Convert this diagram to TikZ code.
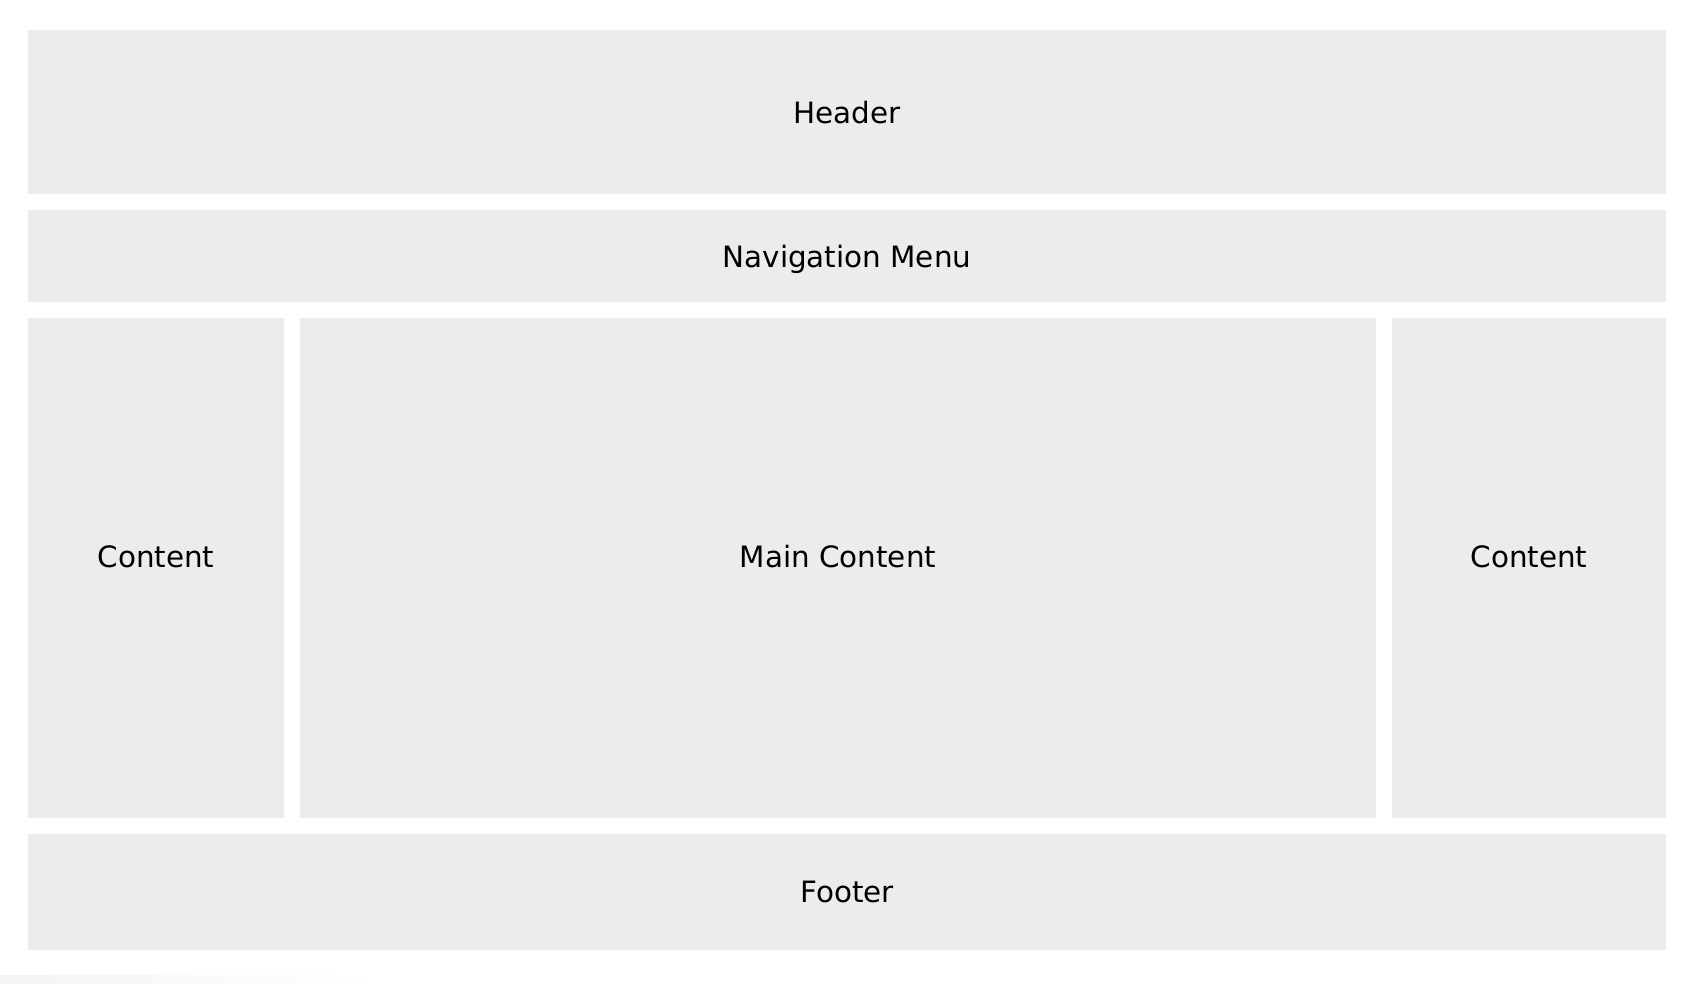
\documentclass[tikz,border=0pt]{standalone}
\usepackage{fontspec}
\setmainfont{DejaVu Sans}
\definecolor{boxgray}{HTML}{ECECEC}
\definecolor{shadowgray}{HTML}{F4F4F4}
\begin{document}
\begin{tikzpicture}[x=1pt,y=-1pt,
  panel/.style={fill=boxgray, draw=none, inner sep=0pt},
  caption/.style={font=\fontsize{29.4}{34}\selectfont, text=black, inner sep=0pt}]
\useasboundingbox[fill=white] (0,0) rectangle (1688,984);
\shade[left color=shadowgray, right color=white] (0,975) rectangle (380,984);
\node[panel, minimum width=1638, minimum height=164,
  label={[caption, yshift=-1pt]center:Header}] (header) at (847,112) {};
\node[panel, minimum width=1638, minimum height=92,
  label={[caption, yshift=-3pt]center:Navigation Menu}] (nav) at (847,256) {};
\node[panel, minimum width=256, minimum height=500,
  label={[caption, yshift=11pt]center:Content}] (left) at (156,568) {};
\node[panel, minimum width=1076, minimum height=500,
  label={[caption, yshift=11pt]center:Main Content}] (main) at (838,568) {};
\node[panel, minimum width=274, minimum height=500,
  label={[caption, yshift=11pt]center:Content}] (right) at (1529,568) {};
\node[panel, minimum width=1638, minimum height=116,
  label={[caption, yshift=0pt]center:Footer}] (footer) at (847,892) {};
\end{tikzpicture}
\end{document}
